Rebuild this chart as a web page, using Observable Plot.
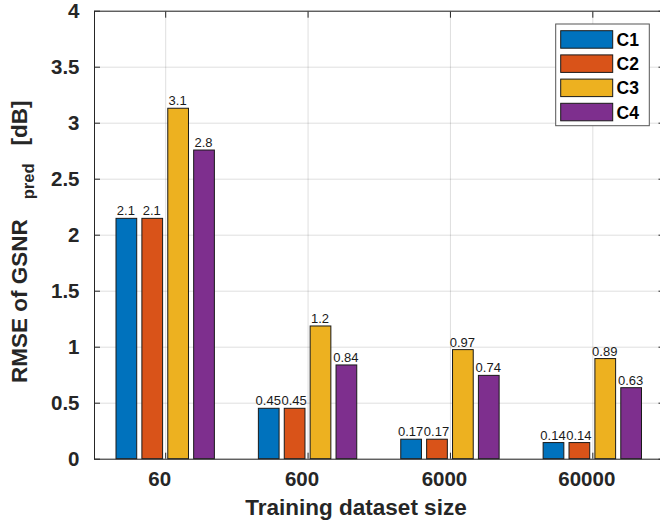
<!DOCTYPE html>
<html>
<head>
<meta charset="utf-8">
<script src="https://cdn.jsdelivr.net/npm/d3@7"></script>
<script src="https://cdn.jsdelivr.net/npm/@observablehq/plot@0.6"></script>
<style>
  html, body { margin: 0; padding: 0; background: white; overflow: hidden; }
  #chart { width: 660px; height: 522px; overflow: hidden; }
</style>
</head>
<body>
<div id="chart"></div>
<script>
// ---- data ----
const categories = ["60", "600", "6000", "60000"];
const seriesNames = ["C1", "C2", "C3", "C4"];
const C1 = [2.146, 0.45, 0.174, 0.144];
const C2 = [2.146, 0.45, 0.174, 0.144];
const C3 = [3.129, 1.185, 0.974, 0.894];
const C4 = [2.756, 0.837, 0.744, 0.634];
const seriesColors = ["#0072BD", "#D95319", "#EDB120", "#7E2F8E"];
const yTicks = [0, 0.5, 1, 1.5, 2, 2.5, 3, 3.5, 4];
const xTitle = "Training dataset size";
const yTitleMain = "RMSE of GSNR";
const yTitleSub = "pred";
const yTitleUnit = "[dB]";

// ---- grouped bar layout (MATLAB-style grouping) ----
const seriesValues = [C1, C2, C3, C4];
const nS = seriesNames.length;
const groupWidth = Math.min(0.8, nS / (nS + 1.5));
const barW = groupWidth / nS * 0.8;
const rows = [];
categories.forEach((cat, ci) => {
  seriesNames.forEach((s, si) => {
    const center = ci + 1 - groupWidth / 2 + (2 * si + 1) * groupWidth / (2 * nS);
    rows.push({cat, series: s, value: seriesValues[si][ci], x: center, x1: center - barW / 2, x2: center + barW / 2});
  });
});
const fmt = d3.format(".2");
const xTickVals = categories.map((c, i) => i + 1);
const FONT = "'Liberation Sans', Arial, Helvetica, sans-serif";
const AX = "#262626";

const plot = Plot.plot({
  width: 660,
  height: 522,
  marginLeft: 94,
  marginRight: -3.5,
  marginTop: 10.7,
  marginBottom: 63.3,
  style: {fontFamily: FONT, fontSize: "12px", color: AX, background: "white", overflow: "hidden"},
  x: {type: "linear", domain: [0.5, 4.5]},
  y: {domain: [0, 4]},
  color: {domain: seriesNames, range: seriesColors},
  marks: [
    Plot.gridY(yTicks, {stroke: "#000", strokeOpacity: 0.13}),
    Plot.gridX(xTickVals, {stroke: "#000", strokeOpacity: 0.13}),
    Plot.rect(rows, {x1: "x1", x2: "x2", y1: 0, y2: "value", fill: "series", stroke: "#1a1a1a", strokeWidth: 1}),
    Plot.text(rows, {x: "x", y: "value", text: d => fmt(d.value), lineAnchor: "bottom", dy: -3.5, dx: -1, fontSize: 13, fill: "#1a1a1a"}),
    Plot.frame({stroke: AX, strokeWidth: 1}),
    // inward tick marks
    Plot.axisY(yTicks, {anchor: "left", tickSize: 6, dx: 6, tickFormat: () => "", label: null}),
    Plot.axisY(yTicks, {anchor: "right", tickSize: 6, dx: -6, tickFormat: () => "", label: null}),
    Plot.axisX(xTickVals, {anchor: "top", tickSize: 6, dy: 6, tickFormat: () => "", label: null}),
    Plot.axisX(xTickVals, {anchor: "bottom", tickSize: 6, dy: -6, tickFormat: () => "", label: null}),
    // tick labels
    Plot.axisY(yTicks, {anchor: "left", tickSize: 0, tickPadding: 15, tickFormat: d => String(d), fontSize: 20.5, fontWeight: "bold", label: null}),
    Plot.axisX(xTickVals, {anchor: "bottom", tickSize: 0, tickPadding: 12, tickFormat: i => categories[i - 1], fontSize: 20.5, fontWeight: "bold", dx: -6, label: null})
  ]
});

document.getElementById("chart").appendChild(plot);
const svg = d3.select(plot);

// x title
svg.append("text")
  .attr("x", 356).attr("y", 515)
  .attr("text-anchor", "middle")
  .attr("font-family", FONT).attr("font-size", 22.5).attr("font-weight", "bold")
  .attr("fill", AX)
  .text(xTitle);

// y title with subscript
const yt = svg.append("text")
  .attr("transform", "rotate(-90)")
  .attr("x", -383).attr("y", 27)
  .attr("text-anchor", "start")
  .attr("font-family", FONT).attr("font-weight", "bold")
  .attr("fill", AX);
yt.append("tspan").attr("font-size", 22.5).text(yTitleMain);
yt.append("tspan").attr("font-size", 16.5).attr("dx", 20).attr("dy", 7).text(yTitleSub);
yt.append("tspan").attr("font-size", 22.5).attr("dx", 18).attr("dy", -7).text(yTitleUnit);

// legend
const lg = svg.append("g");
lg.append("rect").attr("x", 555.7).attr("y", 24).attr("width", 93.6).attr("height", 101.7)
  .attr("fill", "white").attr("stroke", "#555").attr("stroke-width", 1);
seriesNames.forEach((s, i) => {
  lg.append("rect").attr("x", 560.7).attr("y", 30.7 + i * 24.2).attr("width", 52).attr("height", 17.5)
    .attr("fill", seriesColors[i]).attr("stroke", "#1a1a1a").attr("stroke-width", 1);
  lg.append("text").attr("x", 616.5).attr("y", 46 + i * 24.2)
    .attr("text-anchor", "start")
    .attr("font-family", FONT).attr("font-size", 17.5).attr("font-weight", "bold").attr("fill", "#000")
    .text(s);
});
</script>
</body>
</html>
